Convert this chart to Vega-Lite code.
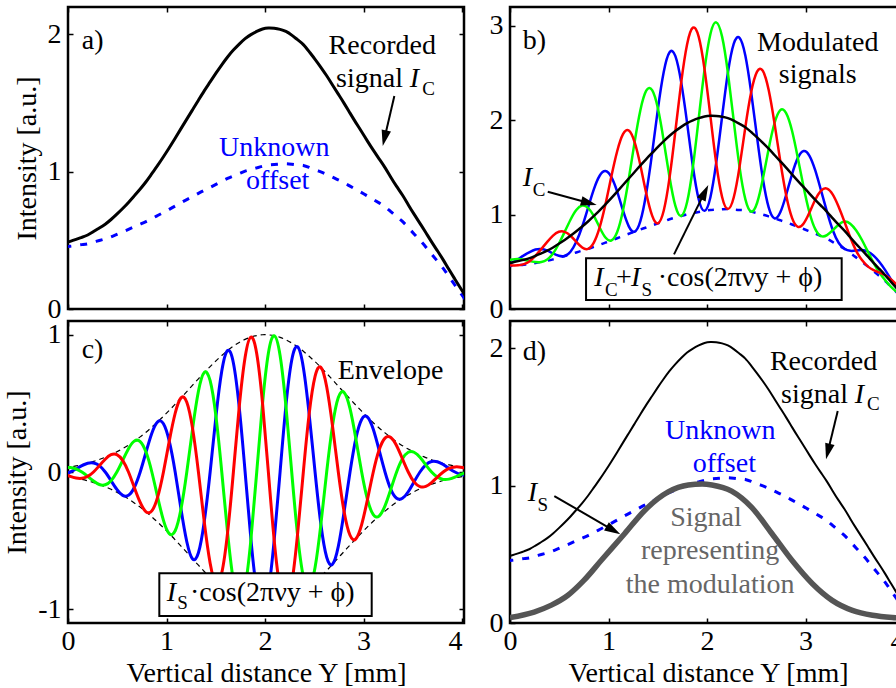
{
  "$schema": "https://vega.github.io/schema/vega-lite/v6.json",
  "padding": {"left": 2, "top": 5, "right": 0, "bottom": 0},
  "background": "white",
  "columns": 2,
  "bounds": "flush",
  "spacing": {"row": 12, "column": 46},
  "datasets": {
    "grid": [
      {"x":-0.037,"o":0.451,"ic":0.481,"g":0.030,"ng":-0.030,"sb":-0.015,"sg":0.030,"sr":-0.015,"mb":0.466,"mg":0.511,"mr":0.466},
      {"x":0.023,"o":0.457,"ic":0.493,"g":0.036,"ng":-0.036,"sb":0,"sg":0.032,"sr":-0.032,"mb":0.493,"mg":0.525,"mr":0.462},
      {"x":0.082,"o":0.463,"ic":0.507,"g":0.044,"ng":-0.044,"sb":0.022,"sg":0.022,"sr":-0.044,"mb":0.529,"mg":0.529,"mr":0.463},
      {"x":0.141,"o":0.469,"ic":0.522,"g":0.053,"ng":-0.053,"sb":0.046,"sg":0,"sr":-0.046,"mb":0.568,"mg":0.522,"mr":0.476},
      {"x":0.200,"o":0.475,"ic":0.539,"g":0.064,"ng":-0.064,"sb":0.064,"sg":-0.032,"sr":-0.032,"mb":0.603,"mg":0.507,"mr":0.507},
      {"x":0.259,"o":0.487,"ic":0.564,"g":0.077,"ng":-0.077,"sb":0.066,"sg":-0.066,"sr":0,"mb":0.630,"mg":0.498,"mr":0.564},
      {"x":0.318,"o":0.499,"ic":0.590,"g":0.091,"ng":-0.091,"sb":0.046,"sg":-0.091,"sr":0.046,"mb":0.636,"mg":0.499,"mr":0.636},
      {"x":0.378,"o":0.511,"ic":0.618,"g":0.107,"ng":-0.107,"sb":0,"sg":-0.093,"sr":0.093,"mb":0.618,"mg":0.525,"mr":0.711},
      {"x":0.437,"o":0.526,"ic":0.652,"g":0.126,"ng":-0.126,"sb":-0.063,"sg":-0.063,"sr":0.126,"mb":0.589,"mg":0.589,"mr":0.778},
      {"x":0.496,"o":0.544,"ic":0.691,"g":0.147,"ng":-0.147,"sb":-0.127,"sg":0,"sr":0.127,"mb":0.564,"mg":0.691,"mr":0.818},
      {"x":0.555,"o":0.562,"ic":0.732,"g":0.170,"ng":-0.170,"sb":-0.170,"sg":0.085,"sr":0.085,"mb":0.562,"mg":0.817,"mr":0.817},
      {"x":0.614,"o":0.580,"ic":0.776,"g":0.196,"ng":-0.196,"sb":-0.170,"sg":0.170,"sr":0,"mb":0.606,"mg":0.946,"mr":0.776},
      {"x":0.673,"o":0.599,"ic":0.824,"g":0.225,"ng":-0.225,"sb":-0.113,"sg":0.225,"sr":-0.113,"mb":0.712,"mg":1.049,"mr":0.712},
      {"x":0.733,"o":0.618,"ic":0.874,"g":0.256,"ng":-0.256,"sb":0,"sg":0.222,"sr":-0.222,"mb":0.874,"mg":1.096,"mr":0.652},
      {"x":0.792,"o":0.637,"ic":0.927,"g":0.290,"ng":-0.290,"sb":0.145,"sg":0.145,"sr":-0.290,"mb":1.072,"mg":1.072,"mr":0.637},
      {"x":0.851,"o":0.659,"ic":0.986,"g":0.327,"ng":-0.327,"sb":0.283,"sg":0,"sr":-0.283,"mb":1.268,"mg":0.986,"mr":0.703},
      {"x":0.910,"o":0.681,"ic":1.046,"g":0.365,"ng":-0.365,"sb":0.365,"sg":-0.183,"sr":-0.183,"mb":1.412,"mg":0.864,"mr":0.864},
      {"x":0.969,"o":0.703,"ic":1.109,"g":0.406,"ng":-0.406,"sb":0.352,"sg":-0.352,"sr":0,"mb":1.461,"mg":0.757,"mr":1.109},
      {"x":1.028,"o":0.726,"ic":1.175,"g":0.449,"ng":-0.449,"sb":0.225,"sg":-0.449,"sr":0.225,"mb":1.400,"mg":0.726,"mr":1.400},
      {"x":1.088,"o":0.750,"ic":1.244,"g":0.494,"ng":-0.494,"sb":0,"sg":-0.428,"sr":0.428,"mb":1.244,"mg":0.816,"mr":1.672},
      {"x":1.147,"o":0.774,"ic":1.314,"g":0.540,"ng":-0.540,"sb":-0.270,"sg":-0.270,"sr":0.540,"mb":1.044,"mg":1.044,"mr":1.853},
      {"x":1.206,"o":0.797,"ic":1.383,"g":0.586,"ng":-0.586,"sb":-0.508,"sg":0,"sr":0.508,"mb":0.876,"mg":1.383,"mr":1.891},
      {"x":1.265,"o":0.819,"ic":1.452,"g":0.633,"ng":-0.633,"sb":-0.633,"sg":0.316,"sr":0.316,"mb":0.819,"mg":1.768,"mr":1.768},
      {"x":1.324,"o":0.842,"ic":1.521,"g":0.679,"ng":-0.679,"sb":-0.588,"sg":0.588,"sr":0,"mb":0.933,"mg":2.109,"mr":1.521},
      {"x":1.383,"o":0.864,"ic":1.589,"g":0.725,"ng":-0.725,"sb":-0.362,"sg":0.725,"sr":-0.362,"mb":1.226,"mg":2.313,"mr":1.226},
      {"x":1.443,"o":0.886,"ic":1.654,"g":0.768,"ng":-0.768,"sb":0,"sg":0.665,"sr":-0.665,"mb":1.654,"mg":2.320,"mr":0.989},
      {"x":1.502,"o":0.908,"ic":1.718,"g":0.810,"ng":-0.810,"sb":0.405,"sg":0.405,"sr":-0.810,"mb":2.124,"mg":2.124,"mr":0.908},
      {"x":1.561,"o":0.930,"ic":1.779,"g":0.849,"ng":-0.849,"sb":0.735,"sg":0,"sr":-0.735,"mb":2.515,"mg":1.779,"mr":1.044},
      {"x":1.620,"o":0.951,"ic":1.836,"g":0.885,"ng":-0.885,"sb":0.885,"sg":-0.442,"sr":-0.442,"mb":2.721,"mg":1.394,"mr":1.394},
      {"x":1.679,"o":0.969,"ic":1.886,"g":0.917,"ng":-0.917,"sb":0.794,"sg":-0.794,"sr":0,"mb":2.679,"mg":1.092,"mr":1.886},
      {"x":1.738,"o":0.986,"ic":1.930,"g":0.944,"ng":-0.944,"sb":0.472,"sg":-0.944,"sr":0.472,"mb":2.401,"mg":0.986,"mr":2.401},
      {"x":1.798,"o":1.004,"ic":1.970,"g":0.966,"ng":-0.966,"sb":0,"sg":-0.836,"sr":0.836,"mb":1.970,"mg":1.133,"mr":2.806},
      {"x":1.857,"o":1.016,"ic":1.999,"g":0.983,"ng":-0.983,"sb":-0.491,"sg":-0.491,"sr":0.983,"mb":1.507,"mg":1.507,"mr":2.981},
      {"x":1.916,"o":1.028,"ic":2.022,"g":0.994,"ng":-0.994,"sb":-0.861,"sg":0,"sr":0.861,"mb":1.161,"mg":2.022,"mr":2.883},
      {"x":1.975,"o":1.040,"ic":2.040,"g":1.000,"ng":-1.000,"sb":-1.000,"sg":0.500,"sr":0.500,"mb":1.040,"mg":2.539,"mr":2.539},
      {"x":2.034,"o":1.048,"ic":2.047,"g":0.999,"ng":-0.999,"sb":-0.865,"sg":0.865,"sr":0,"mb":1.182,"mg":2.912,"mr":2.047},
      {"x":2.093,"o":1.052,"ic":2.045,"g":0.993,"ng":-0.993,"sb":-0.496,"sg":0.993,"sr":-0.496,"mb":1.548,"mg":3.037,"mr":1.548},
      {"x":2.153,"o":1.056,"ic":2.037,"g":0.981,"ng":-0.981,"sb":0,"sg":0.849,"sr":-0.849,"mb":2.037,"mg":2.886,"mr":1.187},
      {"x":2.212,"o":1.059,"ic":2.022,"g":0.963,"ng":-0.963,"sb":0.481,"sg":0.481,"sr":-0.963,"mb":2.503,"mg":2.503,"mr":1.059},
      {"x":2.271,"o":1.055,"ic":1.995,"g":0.940,"ng":-0.940,"sb":0.814,"sg":0,"sr":-0.814,"mb":2.809,"mg":1.995,"mr":1.181},
      {"x":2.330,"o":1.050,"ic":1.962,"g":0.912,"ng":-0.912,"sb":0.912,"sg":-0.456,"sr":-0.456,"mb":2.874,"mg":1.506,"mr":1.506},
      {"x":2.389,"o":1.046,"ic":1.926,"g":0.880,"ng":-0.880,"sb":0.762,"sg":-0.762,"sr":0,"mb":2.687,"mg":1.164,"mr":1.926},
      {"x":2.448,"o":1.032,"ic":1.875,"g":0.843,"ng":-0.843,"sb":0.422,"sg":-0.843,"sr":0.422,"mb":2.297,"mg":1.032,"mr":2.297},
      {"x":2.508,"o":1.015,"ic":1.819,"g":0.804,"ng":-0.804,"sb":0,"sg":-0.696,"sr":0.696,"mb":1.819,"mg":1.123,"mr":2.515},
      {"x":2.567,"o":0.999,"ic":1.761,"g":0.762,"ng":-0.762,"sb":-0.381,"sg":-0.381,"sr":0.762,"mb":1.380,"mg":1.380,"mr":2.523},
      {"x":2.626,"o":0.981,"ic":1.699,"g":0.718,"ng":-0.718,"sb":-0.621,"sg":0,"sr":0.621,"mb":1.077,"mg":1.699,"mr":2.320},
      {"x":2.685,"o":0.960,"ic":1.632,"g":0.672,"ng":-0.672,"sb":-0.672,"sg":0.336,"sr":0.336,"mb":0.960,"mg":1.968,"mr":1.968},
      {"x":2.744,"o":0.940,"ic":1.565,"g":0.625,"ng":-0.625,"sb":-0.542,"sg":0.542,"sr":0,"mb":1.024,"mg":2.107,"mr":1.565},
      {"x":2.803,"o":0.919,"ic":1.498,"g":0.579,"ng":-0.579,"sb":-0.289,"sg":0.579,"sr":-0.289,"mb":1.208,"mg":2.076,"mr":1.208},
      {"x":2.863,"o":0.895,"ic":1.427,"g":0.532,"ng":-0.532,"sb":0,"sg":0.461,"sr":-0.461,"mb":1.427,"mg":1.889,"mr":0.966},
      {"x":2.922,"o":0.871,"ic":1.358,"g":0.487,"ng":-0.487,"sb":0.243,"sg":0.243,"sr":-0.487,"mb":1.601,"mg":1.601,"mr":0.871},
      {"x":2.981,"o":0.848,"ic":1.291,"g":0.443,"ng":-0.443,"sb":0.383,"sg":0,"sr":-0.383,"mb":1.674,"mg":1.291,"mr":0.907},
      {"x":3.040,"o":0.823,"ic":1.223,"g":0.400,"ng":-0.400,"sb":0.400,"sg":-0.200,"sr":-0.200,"mb":1.623,"mg":1.023,"mr":1.023},
      {"x":3.099,"o":0.798,"ic":1.157,"g":0.359,"ng":-0.359,"sb":0.311,"sg":-0.311,"sr":0,"mb":1.468,"mg":0.846,"mr":1.157},
      {"x":3.158,"o":0.773,"ic":1.094,"g":0.321,"ng":-0.321,"sb":0.160,"sg":-0.321,"sr":0.160,"mb":1.254,"mg":0.773,"mr":1.254},
      {"x":3.218,"o":0.745,"ic":1.030,"g":0.285,"ng":-0.285,"sb":0,"sg":-0.247,"sr":0.247,"mb":1.030,"mg":0.783,"mr":1.276},
      {"x":3.277,"o":0.709,"ic":0.960,"g":0.251,"ng":-0.251,"sb":-0.126,"sg":-0.126,"sr":0.251,"mb":0.835,"mg":0.835,"mr":1.212},
      {"x":3.336,"o":0.673,"ic":0.893,"g":0.220,"ng":-0.220,"sb":-0.191,"sg":0,"sr":0.191,"mb":0.702,"mg":0.893,"mr":1.084},
      {"x":3.395,"o":0.638,"ic":0.830,"g":0.192,"ng":-0.192,"sb":-0.192,"sg":0.096,"sr":0.096,"mb":0.638,"mg":0.926,"mr":0.926},
      {"x":3.454,"o":0.593,"ic":0.760,"g":0.167,"ng":-0.167,"sb":-0.144,"sg":0.144,"sr":0,"mb":0.616,"mg":0.904,"mr":0.760},
      {"x":3.513,"o":0.547,"ic":0.691,"g":0.144,"ng":-0.144,"sb":-0.072,"sg":0.144,"sr":-0.072,"mb":0.619,"mg":0.834,"mr":0.619},
      {"x":3.573,"o":0.501,"ic":0.624,"g":0.123,"ng":-0.123,"sb":0,"sg":0.107,"sr":-0.107,"mb":0.624,"mg":0.731,"mr":0.518},
      {"x":3.632,"o":0.452,"ic":0.557,"g":0.105,"ng":-0.105,"sb":0.052,"sg":0.052,"sr":-0.105,"mb":0.609,"mg":0.609,"mr":0.452},
      {"x":3.691,"o":0.400,"ic":0.489,"g":0.089,"ng":-0.089,"sb":0.077,"sg":0,"sr":-0.077,"mb":0.566,"mg":0.489,"mr":0.412},
      {"x":3.750,"o":0.349,"ic":0.424,"g":0.075,"ng":-0.075,"sb":0.075,"sg":-0.037,"sr":-0.037,"mb":0.498,"mg":0.386,"mr":0.386},
      {"x":3.809,"o":0.296,"ic":0.358,"g":0.062,"ng":-0.062,"sb":0.054,"sg":-0.054,"sr":0,"mb":0.412,"mg":0.304,"mr":0.358},
      {"x":3.868,"o":0.235,"ic":0.287,"g":0.052,"ng":-0.052,"sb":0.026,"sg":-0.052,"sr":0.026,"mb":0.313,"mg":0.235,"mr":0.313},
      {"x":3.928,"o":0.174,"ic":0.217,"g":0.043,"ng":-0.043,"sb":0,"sg":-0.037,"sr":0.037,"mb":0.217,"mg":0.180,"mr":0.254},
      {"x":3.987,"o":0.114,"ic":0.149,"g":0.035,"ng":-0.035,"sb":-0.018,"sg":-0.018,"sr":0.035,"mb":0.132,"mg":0.132,"mr":0.185},
      {"x":4.046,"o":0.054,"ic":0.083,"g":0.029,"ng":-0.029,"sb":-0.025,"sg":0,"sr":0.025,"mb":0.058,"mg":0.083,"mr":0.108}
    ],
    "gray": [
      {"x":0.0,"is":0.040},{"x":0.245,"is":0.080},{"x":0.42,"is":0.130},{"x":0.585,"is":0.200},
      {"x":0.75,"is":0.310},{"x":0.925,"is":0.455},{"x":1.163,"is":0.650},{"x":1.367,"is":0.820},
      {"x":1.606,"is":0.955},{"x":1.81,"is":1.005},{"x":1.95,"is":1.012},{"x":2.05,"is":1.005},
      {"x":2.25,"is":0.960},{"x":2.456,"is":0.840},{"x":2.66,"is":0.650},{"x":2.864,"is":0.455},
      {"x":3.07,"is":0.286},{"x":3.27,"is":0.165},{"x":3.475,"is":0.092},{"x":3.68,"is":0.056},
      {"x":3.88,"is":0.040},{"x":4.02,"is":0.035}
    ]
  },
  "concat": [
    {
      "width": 396, "height": 302,
      "resolve": {"axis": {"x": "independent", "y": "independent"}},
      "layer": [
        {"data": {"name": "grid"}, "mark": {"type": "line", "color": "#0000ff", "strokeWidth": 3, "strokeDash": [7, 9], "interpolate": "natural", "clip": true},
         "encoding": {"x": {"field": "x", "type": "quantitative", "scale": {"domain": [0, 4.02], "nice": false, "zero": false}, "axis": {"orient": "bottom", "values": [0, 1, 2, 3, 4], "labels": false, "title": null}},
                      "y": {"field": "o", "type": "quantitative", "scale": {"domain": [0, 2.2], "nice": false, "zero": false}, "axis": {"orient": "left", "values": [0, 1, 2], "title": "Intensity [a.u.]", "labelExpr": "'' + datum.value"}}}},
        {"data": {"name": "grid"}, "mark": {"type": "line", "color": "black", "strokeWidth": 3, "interpolate": "natural", "clip": true},
         "encoding": {"x": {"field": "x", "type": "quantitative", "scale": {"domain": [0, 4.02], "nice": false, "zero": false}, "axis": {"orient": "top", "values": [0, 1, 2, 3, 4], "labels": false, "title": null}},
                      "y": {"field": "ic", "type": "quantitative", "scale": {"domain": [0, 2.2], "nice": false, "zero": false}, "axis": {"orient": "right", "values": [0, 1, 2], "labels": false, "title": null}}}},
        {"data": {"values": [{"x1": 3.313, "y1": 1.551, "x2": 3.213, "y2": 1.244}]}, "mark": {"type": "rule", "color": "black", "strokeWidth": 2},
         "encoding": {"x": {"field": "x1", "type": "quantitative", "scale": {"domain": [0, 4.02], "nice": false, "zero": false}, "axis": null}, "x2": {"field": "x2"},
                      "y": {"field": "y1", "type": "quantitative", "scale": {"domain": [0, 2.2], "nice": false, "zero": false}, "axis": null}, "y2": {"field": "y2"}}},
        {"data": {"values": [{"x": 3.195, "y": 1.187}]}, "mark": {"type": "point", "shape": "M0,0L0.6,2L-0.6,2Z", "size": 256, "angle": 193, "filled": true, "color": "black", "opacity": 1},
         "encoding": {"x": {"field": "x", "type": "quantitative", "scale": {"domain": [0, 4.02], "nice": false, "zero": false}, "axis": null},
                      "y": {"field": "y", "type": "quantitative", "scale": {"domain": [0, 2.2], "nice": false, "zero": false}, "axis": null}}},
        {"data": {"values": [{"x": 0.14, "y": 1.896, "t": "a)"}]}, "mark": {"type": "text", "align": "left", "baseline": "alphabetic", "fontSize": 28, "color": "black"},
         "encoding": {"x": {"field": "x", "type": "quantitative", "scale": {"domain": [0, 4.02], "nice": false, "zero": false}, "axis": null},
                      "y": {"field": "y", "type": "quantitative", "scale": {"domain": [0, 2.2], "nice": false, "zero": false}, "axis": null}, "text": {"field": "t"}}},
        {"data": {"values": [{"x": 3.19, "y": 1.855, "t": "Recorded"}]}, "mark": {"type": "text", "align": "center", "baseline": "alphabetic", "fontSize": 28, "color": "black"},
         "encoding": {"x": {"field": "x", "type": "quantitative", "scale": {"domain": [0, 4.02], "nice": false, "zero": false}, "axis": null},
                      "y": {"field": "y", "type": "quantitative", "scale": {"domain": [0, 2.2], "nice": false, "zero": false}, "axis": null}, "text": {"field": "t"}}},
        {"data": {"values": [{"x": 3.40, "y": 1.617, "t": "signal"}]}, "mark": {"type": "text", "align": "right", "baseline": "alphabetic", "fontSize": 28, "color": "black"},
         "encoding": {"x": {"field": "x", "type": "quantitative", "scale": {"domain": [0, 4.02], "nice": false, "zero": false}, "axis": null},
                      "y": {"field": "y", "type": "quantitative", "scale": {"domain": [0, 2.2], "nice": false, "zero": false}, "axis": null}, "text": {"field": "t"}}},
        {"data": {"values": [{"x": 3.47, "y": 1.617, "t": "I"}]}, "mark": {"type": "text", "align": "left", "baseline": "alphabetic", "fontSize": 28, "fontStyle": "italic", "color": "black"},
         "encoding": {"x": {"field": "x", "type": "quantitative", "scale": {"domain": [0, 4.02], "nice": false, "zero": false}, "axis": null},
                      "y": {"field": "y", "type": "quantitative", "scale": {"domain": [0, 2.2], "nice": false, "zero": false}, "axis": null}, "text": {"field": "t"}}},
        {"data": {"values": [{"x": 3.595, "y": 1.559, "t": "C"}]}, "mark": {"type": "text", "align": "left", "baseline": "alphabetic", "fontSize": 19, "color": "black"},
         "encoding": {"x": {"field": "x", "type": "quantitative", "scale": {"domain": [0, 4.02], "nice": false, "zero": false}, "axis": null},
                      "y": {"field": "y", "type": "quantitative", "scale": {"domain": [0, 2.2], "nice": false, "zero": false}, "axis": null}, "text": {"field": "t"}}},
        {"data": {"values": [{"x": 2.094, "y": 1.114, "t": "Unknown"}, {"x": 2.129, "y": 0.872, "t": "offset"}]}, "mark": {"type": "text", "align": "center", "baseline": "alphabetic", "fontSize": 28, "color": "#0000ff"},
         "encoding": {"x": {"field": "x", "type": "quantitative", "scale": {"domain": [0, 4.02], "nice": false, "zero": false}, "axis": null},
                      "y": {"field": "y", "type": "quantitative", "scale": {"domain": [0, 2.2], "nice": false, "zero": false}, "axis": null}, "text": {"field": "t"}}}
      ]
    },
    {
      "width": 396, "height": 302,
      "resolve": {"axis": {"x": "independent", "y": "independent"}},
      "layer": [
        {"data": {"name": "grid"}, "mark": {"type": "line", "color": "#0000ff", "strokeWidth": 2.5, "strokeDash": [6, 8], "interpolate": "natural", "clip": true},
         "encoding": {"x": {"field": "x", "type": "quantitative", "scale": {"domain": [0, 4.02], "nice": false, "zero": false}, "axis": {"orient": "bottom", "values": [0, 1, 2, 3, 4], "labels": false, "title": null}},
                      "y": {"field": "o", "type": "quantitative", "scale": {"domain": [0, 3.2], "nice": false, "zero": false}, "axis": {"orient": "left", "values": [0, 1, 2, 3], "title": null, "labelExpr": "'' + datum.value"}}}},
        {"data": {"name": "grid"}, "mark": {"type": "line", "color": "#0000ff", "strokeWidth": 2.5, "interpolate": "natural", "clip": true},
         "encoding": {"x": {"field": "x", "type": "quantitative", "scale": {"domain": [0, 4.02], "nice": false, "zero": false}, "axis": {"orient": "top", "values": [0, 1, 2, 3, 4], "labels": false, "title": null}},
                      "y": {"field": "mb", "type": "quantitative", "scale": {"domain": [0, 3.2], "nice": false, "zero": false}, "axis": {"orient": "right", "values": [0, 1, 2, 3], "labels": false, "title": null}}}},
        {"data": {"name": "grid"}, "mark": {"type": "line", "color": "#00ff00", "strokeWidth": 2.5, "interpolate": "natural", "clip": true},
         "encoding": {"x": {"field": "x", "type": "quantitative", "scale": {"domain": [0, 4.02], "nice": false, "zero": false}, "axis": null},
                      "y": {"field": "mg", "type": "quantitative", "scale": {"domain": [0, 3.2], "nice": false, "zero": false}, "axis": null}}},
        {"data": {"name": "grid"}, "mark": {"type": "line", "color": "#ff0000", "strokeWidth": 2.5, "interpolate": "natural", "clip": true},
         "encoding": {"x": {"field": "x", "type": "quantitative", "scale": {"domain": [0, 4.02], "nice": false, "zero": false}, "axis": null},
                      "y": {"field": "mr", "type": "quantitative", "scale": {"domain": [0, 3.2], "nice": false, "zero": false}, "axis": null}}},
        {"data": {"name": "grid"}, "mark": {"type": "line", "color": "black", "strokeWidth": 2.5, "interpolate": "natural", "clip": true},
         "encoding": {"x": {"field": "x", "type": "quantitative", "scale": {"domain": [0, 4.02], "nice": false, "zero": false}, "axis": null},
                      "y": {"field": "ic", "type": "quantitative", "scale": {"domain": [0, 3.2], "nice": false, "zero": false}, "axis": null}}},
        {"data": {"values": [{"x1": 0.383, "y1": 1.243, "x2": 0.802, "y2": 1.124}, {"x1": 1.665, "y1": 0.579, "x2": 1.977, "y2": 1.238}]}, "mark": {"type": "rule", "color": "black", "strokeWidth": 2},
         "encoding": {"x": {"field": "x1", "type": "quantitative", "scale": {"domain": [0, 4.02], "nice": false, "zero": false}, "axis": null}, "x2": {"field": "x2"},
                      "y": {"field": "y1", "type": "quantitative", "scale": {"domain": [0, 3.2], "nice": false, "zero": false}, "axis": null}, "y2": {"field": "y2"}}},
        {"data": {"values": [{"x": 0.880, "y": 1.102}]}, "mark": {"type": "point", "shape": "M0,0L0.6,2L-0.6,2Z", "size": 256, "angle": 105, "filled": true, "color": "black", "opacity": 1},
         "encoding": {"x": {"field": "x", "type": "quantitative", "scale": {"domain": [0, 4.02], "nice": false, "zero": false}, "axis": null},
                      "y": {"field": "y", "type": "quantitative", "scale": {"domain": [0, 3.2], "nice": false, "zero": false}, "axis": null}}},
        {"data": {"values": [{"x": 2.013, "y": 1.314}]}, "mark": {"type": "point", "shape": "M0,0L0.6,2L-0.6,2Z", "size": 256, "angle": 26, "filled": true, "color": "black", "opacity": 1},
         "encoding": {"x": {"field": "x", "type": "quantitative", "scale": {"domain": [0, 4.02], "nice": false, "zero": false}, "axis": null},
                      "y": {"field": "y", "type": "quantitative", "scale": {"domain": [0, 3.2], "nice": false, "zero": false}, "axis": null}}},
        {"data": {"values": [{"x1": 0.772, "x2": 3.367, "y1": 0.095, "y2": 0.537}]}, "mark": {"type": "rect", "fill": "white", "stroke": "black", "strokeWidth": 2},
         "encoding": {"x": {"field": "x1", "type": "quantitative", "scale": {"domain": [0, 4.02], "nice": false, "zero": false}, "axis": null}, "x2": {"field": "x2"},
                      "y": {"field": "y1", "type": "quantitative", "scale": {"domain": [0, 3.2], "nice": false, "zero": false}, "axis": null}, "y2": {"field": "y2"}}},
        {"data": {"values": [{"x": 0.129, "y": 2.757, "t": "b)"}, {"x": 1.076, "y": 0.244, "t": "+"}, {"x": 1.50, "y": 0.244, "t": "·cos(2πνy + ϕ)"}]}, "mark": {"type": "text", "align": "left", "baseline": "alphabetic", "fontSize": 28, "color": "black"},
         "encoding": {"x": {"field": "x", "type": "quantitative", "scale": {"domain": [0, 4.02], "nice": false, "zero": false}, "axis": null},
                      "y": {"field": "y", "type": "quantitative", "scale": {"domain": [0, 3.2], "nice": false, "zero": false}, "axis": null}, "text": {"field": "t"}}},
        {"data": {"values": [{"x": 3.124, "y": 2.733, "t": "Modulated"}, {"x": 3.124, "y": 2.397, "t": "signals"}]}, "mark": {"type": "text", "align": "center", "baseline": "alphabetic", "fontSize": 28, "color": "black"},
         "encoding": {"x": {"field": "x", "type": "quantitative", "scale": {"domain": [0, 4.02], "nice": false, "zero": false}, "axis": null},
                      "y": {"field": "y", "type": "quantitative", "scale": {"domain": [0, 3.2], "nice": false, "zero": false}, "axis": null}, "text": {"field": "t"}}},
        {"data": {"values": [{"x": 0.129, "y": 1.303, "t": "I"}, {"x": 0.856, "y": 0.244, "t": "I"}, {"x": 1.228, "y": 0.244, "t": "I"}]}, "mark": {"type": "text", "align": "left", "baseline": "alphabetic", "fontSize": 28, "fontStyle": "italic", "color": "black"},
         "encoding": {"x": {"field": "x", "type": "quantitative", "scale": {"domain": [0, 4.02], "nice": false, "zero": false}, "axis": null},
                      "y": {"field": "y", "type": "quantitative", "scale": {"domain": [0, 3.2], "nice": false, "zero": false}, "axis": null}, "text": {"field": "t"}}},
        {"data": {"values": [{"x": 0.23, "y": 1.197, "t": "C"}, {"x": 0.964, "y": 0.138, "t": "C"}, {"x": 1.335, "y": 0.138, "t": "S"}]}, "mark": {"type": "text", "align": "left", "baseline": "alphabetic", "fontSize": 19, "color": "black"},
         "encoding": {"x": {"field": "x", "type": "quantitative", "scale": {"domain": [0, 4.02], "nice": false, "zero": false}, "axis": null},
                      "y": {"field": "y", "type": "quantitative", "scale": {"domain": [0, 3.2], "nice": false, "zero": false}, "axis": null}, "text": {"field": "t"}}}
      ]
    },
    {
      "width": 396, "height": 302,
      "resolve": {"axis": {"x": "independent", "y": "independent"}},
      "layer": [
        {"data": {"name": "grid"}, "mark": {"type": "line", "color": "black", "strokeWidth": 1.2, "strokeDash": [5, 4], "interpolate": "natural", "clip": true},
         "encoding": {"x": {"field": "x", "type": "quantitative", "scale": {"domain": [0, 4.02], "nice": false, "zero": false}, "axis": {"orient": "bottom", "values": [0, 1, 2, 3, 4], "title": "Vertical distance Y [mm]", "labelAlign": {"condition": {"test": "datum.value == 4", "value": "right"}, "value": "center"}}},
                      "y": {"field": "g", "type": "quantitative", "scale": {"domain": [-1.1, 1.1], "nice": false, "zero": false}, "axis": {"orient": "left", "values": [-1, 0, 1], "title": "Intensity [a.u.]", "labelExpr": "'' + datum.value"}}}},
        {"data": {"name": "grid"}, "mark": {"type": "line", "color": "black", "strokeWidth": 1.2, "strokeDash": [5, 4], "interpolate": "natural", "clip": true},
         "encoding": {"x": {"field": "x", "type": "quantitative", "scale": {"domain": [0, 4.02], "nice": false, "zero": false}, "axis": {"orient": "top", "values": [0, 1, 2, 3, 4], "labels": false, "title": null}},
                      "y": {"field": "ng", "type": "quantitative", "scale": {"domain": [-1.1, 1.1], "nice": false, "zero": false}, "axis": {"orient": "right", "values": [-1, 0, 1], "labels": false, "title": null}}}},
        {"data": {"name": "grid"}, "mark": {"type": "line", "color": "#0000ff", "strokeWidth": 3, "interpolate": "natural", "clip": true},
         "encoding": {"x": {"field": "x", "type": "quantitative", "scale": {"domain": [0, 4.02], "nice": false, "zero": false}, "axis": null},
                      "y": {"field": "sb", "type": "quantitative", "scale": {"domain": [-1.1, 1.1], "nice": false, "zero": false}, "axis": null}}},
        {"data": {"name": "grid"}, "mark": {"type": "line", "color": "#00ff00", "strokeWidth": 3, "interpolate": "natural", "clip": true},
         "encoding": {"x": {"field": "x", "type": "quantitative", "scale": {"domain": [0, 4.02], "nice": false, "zero": false}, "axis": null},
                      "y": {"field": "sg", "type": "quantitative", "scale": {"domain": [-1.1, 1.1], "nice": false, "zero": false}, "axis": null}}},
        {"data": {"name": "grid"}, "mark": {"type": "line", "color": "#ff0000", "strokeWidth": 3, "interpolate": "natural", "clip": true},
         "encoding": {"x": {"field": "x", "type": "quantitative", "scale": {"domain": [0, 4.02], "nice": false, "zero": false}, "axis": null},
                      "y": {"field": "sr", "type": "quantitative", "scale": {"domain": [-1.1, 1.1], "nice": false, "zero": false}, "axis": null}}},
        {"data": {"values": [{"x1": 0.927, "x2": 3.083, "y1": -1.049, "y2": -0.738}]}, "mark": {"type": "rect", "fill": "white", "stroke": "black", "strokeWidth": 2},
         "encoding": {"x": {"field": "x1", "type": "quantitative", "scale": {"domain": [0, 4.02], "nice": false, "zero": false}, "axis": null}, "x2": {"field": "x2"},
                      "y": {"field": "y1", "type": "quantitative", "scale": {"domain": [-1.1, 1.1], "nice": false, "zero": false}, "axis": null}, "y2": {"field": "y2"}}},
        {"data": {"values": [{"x": 0.139, "y": 0.828, "t": "c)"}, {"x": 1.239, "y": -0.940, "t": "·cos(2πνy + ϕ)"}]}, "mark": {"type": "text", "align": "left", "baseline": "alphabetic", "fontSize": 28, "color": "black"},
         "encoding": {"x": {"field": "x", "type": "quantitative", "scale": {"domain": [0, 4.02], "nice": false, "zero": false}, "axis": null},
                      "y": {"field": "y", "type": "quantitative", "scale": {"domain": [-1.1, 1.1], "nice": false, "zero": false}, "axis": null}, "text": {"field": "t"}}},
        {"data": {"values": [{"x": 3.274, "y": 0.677, "t": "Envelope"}]}, "mark": {"type": "text", "align": "center", "baseline": "alphabetic", "fontSize": 28, "color": "black"},
         "encoding": {"x": {"field": "x", "type": "quantitative", "scale": {"domain": [0, 4.02], "nice": false, "zero": false}, "axis": null},
                      "y": {"field": "y", "type": "quantitative", "scale": {"domain": [-1.1, 1.1], "nice": false, "zero": false}, "axis": null}, "text": {"field": "t"}}},
        {"data": {"values": [{"x": 1.002, "y": -0.940, "t": "I"}]}, "mark": {"type": "text", "align": "left", "baseline": "alphabetic", "fontSize": 28, "fontStyle": "italic", "color": "black"},
         "encoding": {"x": {"field": "x", "type": "quantitative", "scale": {"domain": [0, 4.02], "nice": false, "zero": false}, "axis": null},
                      "y": {"field": "y", "type": "quantitative", "scale": {"domain": [-1.1, 1.1], "nice": false, "zero": false}, "axis": null}, "text": {"field": "t"}}},
        {"data": {"values": [{"x": 1.11, "y": -1.0, "t": "S"}]}, "mark": {"type": "text", "align": "left", "baseline": "alphabetic", "fontSize": 19, "color": "black"},
         "encoding": {"x": {"field": "x", "type": "quantitative", "scale": {"domain": [0, 4.02], "nice": false, "zero": false}, "axis": null},
                      "y": {"field": "y", "type": "quantitative", "scale": {"domain": [-1.1, 1.1], "nice": false, "zero": false}, "axis": null}, "text": {"field": "t"}}}
      ]
    },
    {
      "width": 396, "height": 302,
      "resolve": {"axis": {"x": "independent", "y": "independent"}},
      "layer": [
        {"data": {"name": "grid"}, "mark": {"type": "line", "color": "#0000ff", "strokeWidth": 3, "strokeDash": [7, 9], "interpolate": "natural", "clip": true},
         "encoding": {"x": {"field": "x", "type": "quantitative", "scale": {"domain": [0, 4.02], "nice": false, "zero": false}, "axis": {"orient": "bottom", "values": [0, 1, 2, 3, 4], "title": "Vertical distance Y [mm]", "labelAlign": {"condition": {"test": "datum.value == 4", "value": "right"}, "value": "center"}}},
                      "y": {"field": "o", "type": "quantitative", "scale": {"domain": [0, 2.2], "nice": false, "zero": false}, "axis": {"orient": "left", "values": [0, 1, 2], "title": null, "labelExpr": "'' + datum.value"}}}},
        {"data": {"name": "grid"}, "mark": {"type": "line", "color": "black", "strokeWidth": 2, "interpolate": "natural", "clip": true},
         "encoding": {"x": {"field": "x", "type": "quantitative", "scale": {"domain": [0, 4.02], "nice": false, "zero": false}, "axis": {"orient": "top", "values": [0, 1, 2, 3, 4], "labels": false, "title": null}},
                      "y": {"field": "ic", "type": "quantitative", "scale": {"domain": [0, 2.2], "nice": false, "zero": false}, "axis": {"orient": "right", "values": [0, 1, 2], "labels": false, "title": null}}}},
        {"data": {"name": "gray"}, "mark": {"type": "line", "color": "#555555", "strokeWidth": 5.5, "interpolate": "monotone", "clip": true},
         "encoding": {"x": {"field": "x", "type": "quantitative", "scale": {"domain": [0, 4.02], "nice": false, "zero": false}, "axis": null},
                      "y": {"field": "is", "type": "quantitative", "scale": {"domain": [0, 2.2], "nice": false, "zero": false}, "axis": null}}},
        {"data": {"values": [{"x1": 3.327, "y1": 1.544, "x2": 3.227, "y2": 1.249}, {"x1": 0.45, "y1": 0.925, "x2": 1.05, "y2": 0.675}]}, "mark": {"type": "rule", "color": "black", "strokeWidth": 2},
         "encoding": {"x": {"field": "x1", "type": "quantitative", "scale": {"domain": [0, 4.02], "nice": false, "zero": false}, "axis": null}, "x2": {"field": "x2"},
                      "y": {"field": "y1", "type": "quantitative", "scale": {"domain": [0, 2.2], "nice": false, "zero": false}, "axis": null}, "y2": {"field": "y2"}}},
        {"data": {"values": [{"x": 3.208, "y": 1.192}]}, "mark": {"type": "point", "shape": "M0,0L0.6,2L-0.6,2Z", "size": 256, "angle": 194, "filled": true, "color": "black", "opacity": 1},
         "encoding": {"x": {"field": "x", "type": "quantitative", "scale": {"domain": [0, 4.02], "nice": false, "zero": false}, "axis": null},
                      "y": {"field": "y", "type": "quantitative", "scale": {"domain": [0, 2.2], "nice": false, "zero": false}, "axis": null}}},
        {"data": {"values": [{"x": 1.12, "y": 0.646}]}, "mark": {"type": "point", "shape": "M0,0L0.6,2L-0.6,2Z", "size": 256, "angle": 120, "filled": true, "color": "black", "opacity": 1},
         "encoding": {"x": {"field": "x", "type": "quantitative", "scale": {"domain": [0, 4.02], "nice": false, "zero": false}, "axis": null},
                      "y": {"field": "y", "type": "quantitative", "scale": {"domain": [0, 2.2], "nice": false, "zero": false}, "axis": null}}},
        {"data": {"values": [{"x": 0.129, "y": 1.913, "t": "d)"}]}, "mark": {"type": "text", "align": "left", "baseline": "alphabetic", "fontSize": 28, "color": "black"},
         "encoding": {"x": {"field": "x", "type": "quantitative", "scale": {"domain": [0, 4.02], "nice": false, "zero": false}, "axis": null},
                      "y": {"field": "y", "type": "quantitative", "scale": {"domain": [0, 2.2], "nice": false, "zero": false}, "axis": null}, "text": {"field": "t"}}},
        {"data": {"values": [{"x": 3.183, "y": 1.840, "t": "Recorded"}]}, "mark": {"type": "text", "align": "center", "baseline": "alphabetic", "fontSize": 28, "color": "black"},
         "encoding": {"x": {"field": "x", "type": "quantitative", "scale": {"domain": [0, 4.02], "nice": false, "zero": false}, "axis": null},
                      "y": {"field": "y", "type": "quantitative", "scale": {"domain": [0, 2.2], "nice": false, "zero": false}, "axis": null}, "text": {"field": "t"}}},
        {"data": {"values": [{"x": 3.431, "y": 1.605, "t": "signal"}]}, "mark": {"type": "text", "align": "right", "baseline": "alphabetic", "fontSize": 28, "color": "black"},
         "encoding": {"x": {"field": "x", "type": "quantitative", "scale": {"domain": [0, 4.02], "nice": false, "zero": false}, "axis": null},
                      "y": {"field": "y", "type": "quantitative", "scale": {"domain": [0, 2.2], "nice": false, "zero": false}, "axis": null}, "text": {"field": "t"}}},
        {"data": {"values": [{"x": 3.50, "y": 1.605, "t": "I"}, {"x": 0.18, "y": 0.889, "t": "I"}]}, "mark": {"type": "text", "align": "left", "baseline": "alphabetic", "fontSize": 28, "fontStyle": "italic", "color": "black"},
         "encoding": {"x": {"field": "x", "type": "quantitative", "scale": {"domain": [0, 4.02], "nice": false, "zero": false}, "axis": null},
                      "y": {"field": "y", "type": "quantitative", "scale": {"domain": [0, 2.2], "nice": false, "zero": false}, "axis": null}, "text": {"field": "t"}}},
        {"data": {"values": [{"x": 3.625, "y": 1.549, "t": "C"}, {"x": 0.28, "y": 0.816, "t": "S"}]}, "mark": {"type": "text", "align": "left", "baseline": "alphabetic", "fontSize": 19, "color": "black"},
         "encoding": {"x": {"field": "x", "type": "quantitative", "scale": {"domain": [0, 4.02], "nice": false, "zero": false}, "axis": null},
                      "y": {"field": "y", "type": "quantitative", "scale": {"domain": [0, 2.2], "nice": false, "zero": false}, "axis": null}, "text": {"field": "t"}}},
        {"data": {"values": [{"x": 2.134, "y": 1.342, "t": "Unknown"}, {"x": 2.176, "y": 1.102, "t": "offset"}]}, "mark": {"type": "text", "align": "center", "baseline": "alphabetic", "fontSize": 28, "color": "#0000ff"},
         "encoding": {"x": {"field": "x", "type": "quantitative", "scale": {"domain": [0, 4.02], "nice": false, "zero": false}, "axis": null},
                      "y": {"field": "y", "type": "quantitative", "scale": {"domain": [0, 2.2], "nice": false, "zero": false}, "axis": null}, "text": {"field": "t"}}},
        {"data": {"values": [{"x": 1.99, "y": 0.706, "t": "Signal"}, {"x": 2.032, "y": 0.464, "t": "representing"}, {"x": 2.032, "y": 0.221, "t": "the modulation"}]}, "mark": {"type": "text", "align": "center", "baseline": "alphabetic", "fontSize": 28, "color": "#666666"},
         "encoding": {"x": {"field": "x", "type": "quantitative", "scale": {"domain": [0, 4.02], "nice": false, "zero": false}, "axis": null},
                      "y": {"field": "y", "type": "quantitative", "scale": {"domain": [0, 2.2], "nice": false, "zero": false}, "axis": null}, "text": {"field": "t"}}}
      ]
    }
  ],
  "config": {
    "view": {"stroke": "black", "strokeWidth": 2.5},
    "font": "Liberation Serif, DejaVu Serif, serif",
    "axis": {
      "domain": false, "grid": false, "ticks": true, "tickSize": -5, "tickWidth": 1.5, "tickColor": "black",
      "labelFont": "Liberation Serif, DejaVu Serif, serif", "labelFontSize": 28, "labelColor": "black", "labelPadding": 12,
      "labelFlush": false, "labelOverlap": false, "labelBound": false,
      "titleFont": "Liberation Serif, DejaVu Serif, serif", "titleFontSize": 28, "titleFontWeight": "normal", "titleColor": "black", "titlePadding": 6
    },
    "axisX": {"labelPadding": 9, "titlePadding": 4},
    "text": {"font": "Liberation Serif, DejaVu Serif, serif"}
  }
}
